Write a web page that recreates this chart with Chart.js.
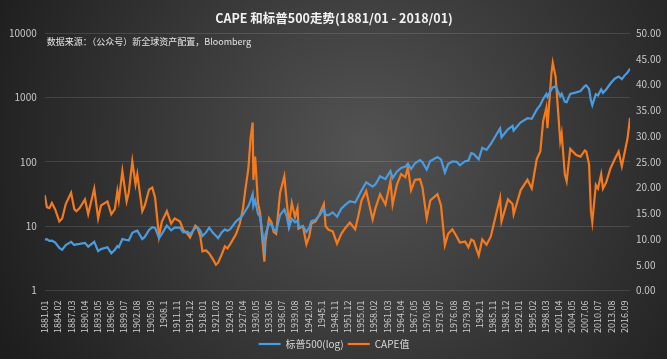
<!DOCTYPE html>
<html>
<head>
<meta charset="utf-8">
<script src="https://cdn.jsdelivr.net/npm/chart.js@4"></script>
<style>
  html, body { margin: 0; padding: 0; background: #1c1c1c; }
  #wrap { width: 667px; height: 359px; }
</style>
</head>
<body>
<div id="wrap"><canvas id="capeChart"></canvas></div>
<script>
// month stamps (year.month), S&P 500 level and CAPE
const dates = [
  '1881.01','1881.07','1882.02','1882.09','1883.06','1884.06','1885.02','1885.12','1887.03','1887.12',
  '1888.06','1889.03','1890.06','1891.03','1892.08','1893.07','1894.03','1895.09','1896.08','1897.06',
  '1898.01','1898.05','1899.03','1900.03','1900.09','1901.07','1902.04','1902.09','1903.11','1904.06',
  '1905.06','1906.03','1906.11','1907.10','1908.06','1909.08','1910.08','1911.06','1912.09','1913.06',
  '1914.06','1915.01','1916.04','1916.10','1917.06','1917.12','1918.10','1919.07','1920.06','1921.02',
  '1921.08','1922.06','1923.03','1923.10','1924.06','1925.10','1926.09','1927.06','1927.12','1928.09',
  '1929.03','1929.09','1929.11','1930.04','1930.12','1931.06','1931.12','1932.06','1932.09','1933.07',
  '1934.02','1934.08','1935.03','1936.02','1937.02','1937.09','1938.03','1938.11','1939.08','1940.03',
  '1940.06','1941.06','1942.04','1942.12','1943.06','1944.06','1945.06','1946.05','1946.10','1947.06',
  '1948.06','1949.06','1950.06','1951.06','1952.06','1953.09','1954.06','1955.03','1956.04','1957.10',
  '1958.06','1959.07','1960.10','1961.12','1962.06','1963.06','1964.06','1965.06','1966.01','1966.10',
  '1967.09','1968.11','1969.06','1970.06','1971.04','1972.12','1973.10','1974.09','1975.06','1976.06',
  '1977.06','1978.03','1979.06','1980.03','1980.11','1981.06','1982.08','1983.06','1984.06','1985.06',
  '1986.06','1987.08','1987.12','1989.06','1990.07','1990.10','1992.06','1994.01','1995.01','1996.03',
  '1997.01','1997.09','1998.06','1998.09','1999.08','1999.12','2000.08','2001.09','2002.01','2002.10',
  '2003.03','2004.01','2005.06','2006.06','2007.06','2007.10','2008.06','2008.11','2009.03','2010.01',
  '2010.07','2011.04','2011.09','2012.06','2013.06','2014.06','2015.05','2016.02','2016.09','2017.06',
  '2018.01'
];
const sp500 = [
  6.19, 6.30, 5.90, 5.95, 5.60, 4.60, 4.30, 5.10, 5.70, 5.10,
  5.20, 5.30, 5.50, 4.80, 5.70, 4.10, 4.40, 4.70, 3.80, 4.30,
  4.90, 4.70, 6.30, 6.10, 6.00, 7.90, 8.30, 8.50, 6.30, 6.80,
  8.70, 9.60, 9.40, 6.50, 7.60, 10.2, 8.60, 9.50, 9.50, 8.00,
  8.20, 7.50, 9.40, 9.60, 8.50, 7.00, 8.00, 9.50, 7.80, 7.10,
  6.50, 8.00, 8.90, 8.50, 9.00, 11.8, 13.3, 15.0, 17.2, 20.5,
  25.0, 31.3, 20.6, 25.0, 15.5, 14.0, 8.10, 4.77, 7.50, 10.9,
  10.6, 8.90, 8.40, 14.9, 18.1, 14.0, 9.50, 13.0, 11.5, 12.2,
  9.60, 10.0, 8.10, 9.50, 12.0, 12.6, 15.0, 18.7, 14.8, 14.8,
  16.4, 14.0, 18.7, 21.6, 24.5, 23.3, 28.8, 36.0, 48.0, 41.0,
  44.7, 59.7, 53.7, 71.7, 55.6, 70.0, 80.0, 84.0, 93.3, 77.1,
  95.0, 106, 98.0, 75.6, 103, 118, 109, 68.0, 92.0, 101,
  100, 88.0, 102, 104, 136, 132, 109, 165, 153, 189,
  245, 330, 240, 320, 360, 305, 410, 475, 465, 645,
  766, 945, 1130, 1020, 1330, 1430, 1485, 1040, 1140, 854,
  841, 1132, 1195, 1255, 1505, 1540, 1350, 900, 757, 1123,
  1070, 1330, 1175, 1325, 1640, 1950, 2110, 1918, 2160, 2430,
  2790
];
const cape = [
  18.5, 16.2, 16.0, 17.0, 15.8, 13.4, 14.0, 16.8, 19.0, 15.8,
  15.4, 16.0, 17.7, 14.8, 19.8, 14.0, 16.5, 17.3, 14.8, 15.8,
  19.3, 17.5, 23.2, 17.3, 19.0, 25.1, 20.6, 22.6, 15.4, 16.5,
  19.6, 20.0, 18.0, 10.5, 13.4, 15.4, 13.0, 14.0, 13.4, 11.8,
  11.0, 10.3, 12.6, 12.2, 10.5, 7.6, 7.8, 7.2, 6.0, 5.0,
  5.4, 7.0, 8.6, 8.2, 9.0, 10.9, 13.0, 16.0, 19.3, 23.7,
  29.5, 32.6, 21.5, 26.0, 17.0, 15.0, 10.0, 5.6, 9.5, 14.0,
  13.2, 11.4, 11.0, 19.0, 22.2, 17.0, 13.0, 17.0, 14.3, 16.0,
  12.0, 12.5, 9.0, 10.5, 13.0, 13.4, 15.0, 16.8, 12.5, 11.8,
  11.5, 9.1, 11.0, 12.2, 13.2, 11.9, 14.5, 17.5, 19.3, 13.8,
  16.0, 18.7, 16.7, 21.2, 16.7, 20.5, 22.6, 22.0, 23.9, 19.5,
  21.5, 21.6, 20.0, 14.0, 17.5, 18.7, 16.5, 8.8, 11.0, 11.9,
  10.5, 9.3, 9.5, 8.4, 9.9, 9.6, 6.8, 9.9, 8.9, 10.5,
  14.0, 18.0, 13.4, 17.7, 16.8, 14.8, 19.5, 21.5, 19.8, 25.5,
  27.0, 32.9, 35.5, 31.5, 42.0, 44.2, 41.5, 29.0, 30.5, 22.5,
  21.2, 27.5, 26.3, 26.0, 27.2, 27.0, 24.5, 15.5, 13.3, 20.5,
  19.8, 22.6, 19.8, 21.0, 23.7, 25.5, 27.0, 24.1, 26.5, 29.5,
  33.5
];
const tickLabels = [
  '1881.01','1884.02','1887.03','1890.04','1893.05','1896.06','1899.07','1902.08','1905.09','1908.1',
  '1911.11','1914.12','1918.01','1921.02','1924.03','1927.04','1930.05','1933.06','1936.07','1939.08',
  '1942.09','1945.1','1948.11','1951.12','1955.01','1958.02','1961.03','1964.04','1967.05','1970.06',
  '1973.07','1976.08','1979.09','1982.1','1985.11','1988.12','1992.01','1995.02','1998.03','2001.04',
  '2004.05','2007.06','2010.07','2013.08','2016.09'
];
const logTicks = [1, 10, 100, 1000, 10000];

// months since 1881.01
function monthIndex(s) {
  const parts = s.split('.');
  return (parseInt(parts[0]) - 1881) * 12 + parseInt(parts[1].padEnd(2, '0')) - 1;
}
const lastMonth = monthIndex('2018.01');

const bgPlugin = {
  id: 'bg',
  beforeDraw(chart) {
    const { ctx, width, height } = chart;
    const g = ctx.createRadialGradient(width * 0.55, height * 0.42, 10, width * 0.55, height * 0.42, width * 0.62);
    g.addColorStop(0, '#525252');
    g.addColorStop(1, '#1d1d1d');
    ctx.save();
    ctx.fillStyle = g;
    ctx.fillRect(0, 0, width, height);
    ctx.restore();
  }
};

const sourcePlugin = {
  id: 'source',
  afterDraw(chart) {
    const { ctx, chartArea } = chart;
    ctx.save();
    ctx.fillStyle = '#e6e6e6';
    ctx.font = '9px "Noto Sans CJK SC"';
    ctx.textBaseline = 'middle';
    ctx.fillText('数据来源：（公众号）新全球资产配置，Bloomberg', chartArea.left + 2, chartArea.top + 9);
    ctx.restore();
  }
};

const ctx = document.getElementById('capeChart').getContext('2d');
const capeChart = new Chart(ctx, {
  type: 'line',
  data: {
    datasets: [{
      label: '标普500(log)',
      data: dates.map((d, i) => ({ x: monthIndex(d), y: sp500[i] })),
      borderColor: '#4a9be0',
      backgroundColor: '#4a9be0',
      borderWidth: 2.2,
      pointRadius: 0,
      tension: 0,
      yAxisID: 'y'
    }, {
      label: 'CAPE值',
      data: dates.map((d, i) => ({ x: monthIndex(d), y: cape[i] })),
      borderColor: '#f57a1c',
      backgroundColor: '#f57a1c',
      borderWidth: 2.2,
      pointRadius: 0,
      tension: 0,
      yAxisID: 'y1'
    }]
  },
  options: {
    responsive: true,
    maintainAspectRatio: false,
    animation: false,
    layout: { padding: { left: 1, right: 0, top: 5, bottom: 0 } },
    plugins: {
      title: {
        display: true,
        text: 'CAPE 和标普500走势(1881/01 - 2018/01)',
        color: '#f2f2f2',
        font: { family: '"Noto Sans CJK SC"', size: 12.5, weight: 'bold' },
        padding: { top: 6, bottom: 7 }
      },
      legend: {
        position: 'bottom',
        labels: {
          color: '#d9d9d9',
          font: { family: '"Noto Sans CJK SC"', size: 10 },
          usePointStyle: true,
          pointStyle: 'line',
          pointStyleWidth: 22,
          boxHeight: 8,
          padding: 4
        }
      },
      tooltip: { enabled: false }
    },
    scales: {
      x: {
        type: 'linear',
        min: 0,
        max: lastMonth,
        afterBuildTicks(axis) {
          axis.ticks = tickLabels.map(l => ({ value: monthIndex(l) }));
        },
        ticks: {
          autoSkip: false,
          minRotation: 90,
          maxRotation: 90,
          color: '#d0d0d0',
          font: { family: '"Noto Sans CJK SC"', size: 9 },
          padding: 2,
          callback(value) {
            const l = tickLabels.find(t => monthIndex(t) === value);
            return l || '';
          }
        },
        grid: { display: false },
        border: { display: false }
      },
      y: {
        type: 'logarithmic',
        position: 'left',
        min: 1,
        max: 10000,
        afterBuildTicks(axis) {
          axis.ticks = logTicks.map(v => ({ value: v }));
        },
        ticks: {
          color: '#c8c8c8',
          font: { family: '"Noto Sans CJK SC"', size: 10 },
          padding: 8,
          callback: v => String(v)
        },
        grid: { color: 'rgba(255,255,255,0.12)', drawTicks: false },
        border: { display: false }
      },
      y1: {
        type: 'linear',
        position: 'right',
        min: 0,
        max: 50,
        ticks: {
          stepSize: 5,
          color: '#c8c8c8',
          font: { family: '"Noto Sans CJK SC"', size: 10 },
          padding: 6,
          callback: v => v.toFixed(2)
        },
        grid: { display: false, drawTicks: false },
        border: { display: false }
      }
    }
  },
  plugins: [bgPlugin, sourcePlugin]
});
</script>
</body>
</html>
